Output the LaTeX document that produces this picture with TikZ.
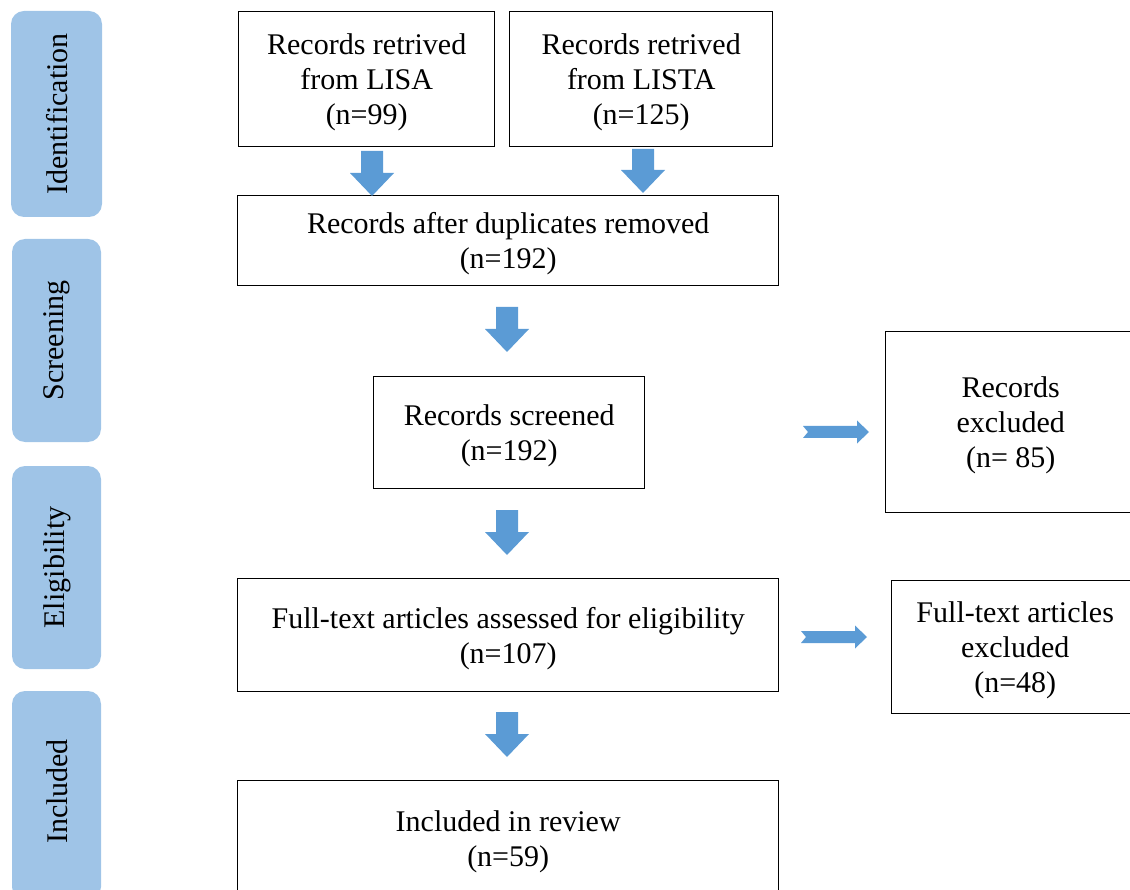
\documentclass[tikz,border=0pt]{standalone}
\usepackage{fontspec}
\setmainfont{Liberation Serif}
\definecolor{phasefill}{RGB}{159,196,231}
\definecolor{arrfill}{RGB}{91,155,213}
\newcommand\dnblk[3]{%
  \fill[arrblk] (#1-11,#2) -- (#1+11,#2) -- (#1+11,#3-23) -- (#1+22,#3-23) -- (#1,#3) -- (#1-22,#3-23) -- (#1-11,#3-23) -- cycle;}
\newcommand\rtblk[3]{%
  \fill[arrblk] (#1,#3-6) -- (#2-12,#3-6) -- (#2-12,#3-11.5) -- (#2,#3) -- (#2-12,#3+11.5) -- (#2-12,#3+6) -- (#1,#3+6) -- (#1+5,#3) -- cycle;}
\begin{document}
\begin{tikzpicture}[x=1pt,y=-1pt,
  box/.style={draw=black, line width=1.4pt, align=center, inner sep=0pt, anchor=north west,
    text depth=0pt, font=\fontsize{30}{35}\selectfont},
  phasebox/.style={fill=phasefill, draw=none, rounded corners=13pt},
  phaselabel/.style={rotate=90, font=\fontsize{30}{35}\selectfont},
  arrblk/.style={fill=arrfill}]
\useasboundingbox (0,0) rectangle (1130,890);
% phase bars
\fill[phasebox] (11,11) rectangle (102,217);
\fill[phasebox] (12,239) rectangle (101,442);
\fill[phasebox] (12,466) rectangle (101,669);
\fill[phasebox] (12,691) rectangle (101,900);
\node[phaselabel] (pid) at (57,114) {Identification};
\node[phaselabel] (psc) at (57,340.5) {Screening};
\node[phaselabel] (pel) at (57,567.5) {Eligibility};
\node[phaselabel] (pin) at (57,791.5) {Included};
% boxes
\node[box, minimum width=256pt, minimum height=135pt] (lisa) at (238,11) {Records retrived\\from LISA\\(n=99)};
\node[box, minimum width=263pt, minimum height=135pt] (lista) at (509,11) {Records retrived\\from LISTA\\(n=125)};
\node[box, minimum width=541pt, minimum height=90pt] (dup) at (237,195) {Records after duplicates removed\\(n=192)};
\node[box, minimum width=271pt, minimum height=112pt] (scr) at (373,376) {Records screened\\(n=192)};
\node[box, minimum width=250pt, minimum height=181pt] (excl) at (885,331) {Records\\excluded\\(n= 85)};
\node[box, minimum width=541pt, minimum height=113pt] (ft) at (237,578) {Full-text articles assessed for eligibility\\(n=107)};
\node[box, minimum width=247pt, minimum height=133pt] (ftex) at (891,580) {Full-text articles\\excluded\\(n=48)};
\node[box, minimum width=541pt, minimum height=116pt] (inc) at (237,780) {Included in review\\(n=59)};
% block arrows
\dnblk{372}{151}{196}
\dnblk{643}{149}{193}
\dnblk{507}{307}{352}
\dnblk{507}{510}{555}
\dnblk{507}{712}{757}
\rtblk{803}{869}{432}
\rtblk{801}{867}{637}
\end{tikzpicture}
\end{document}
